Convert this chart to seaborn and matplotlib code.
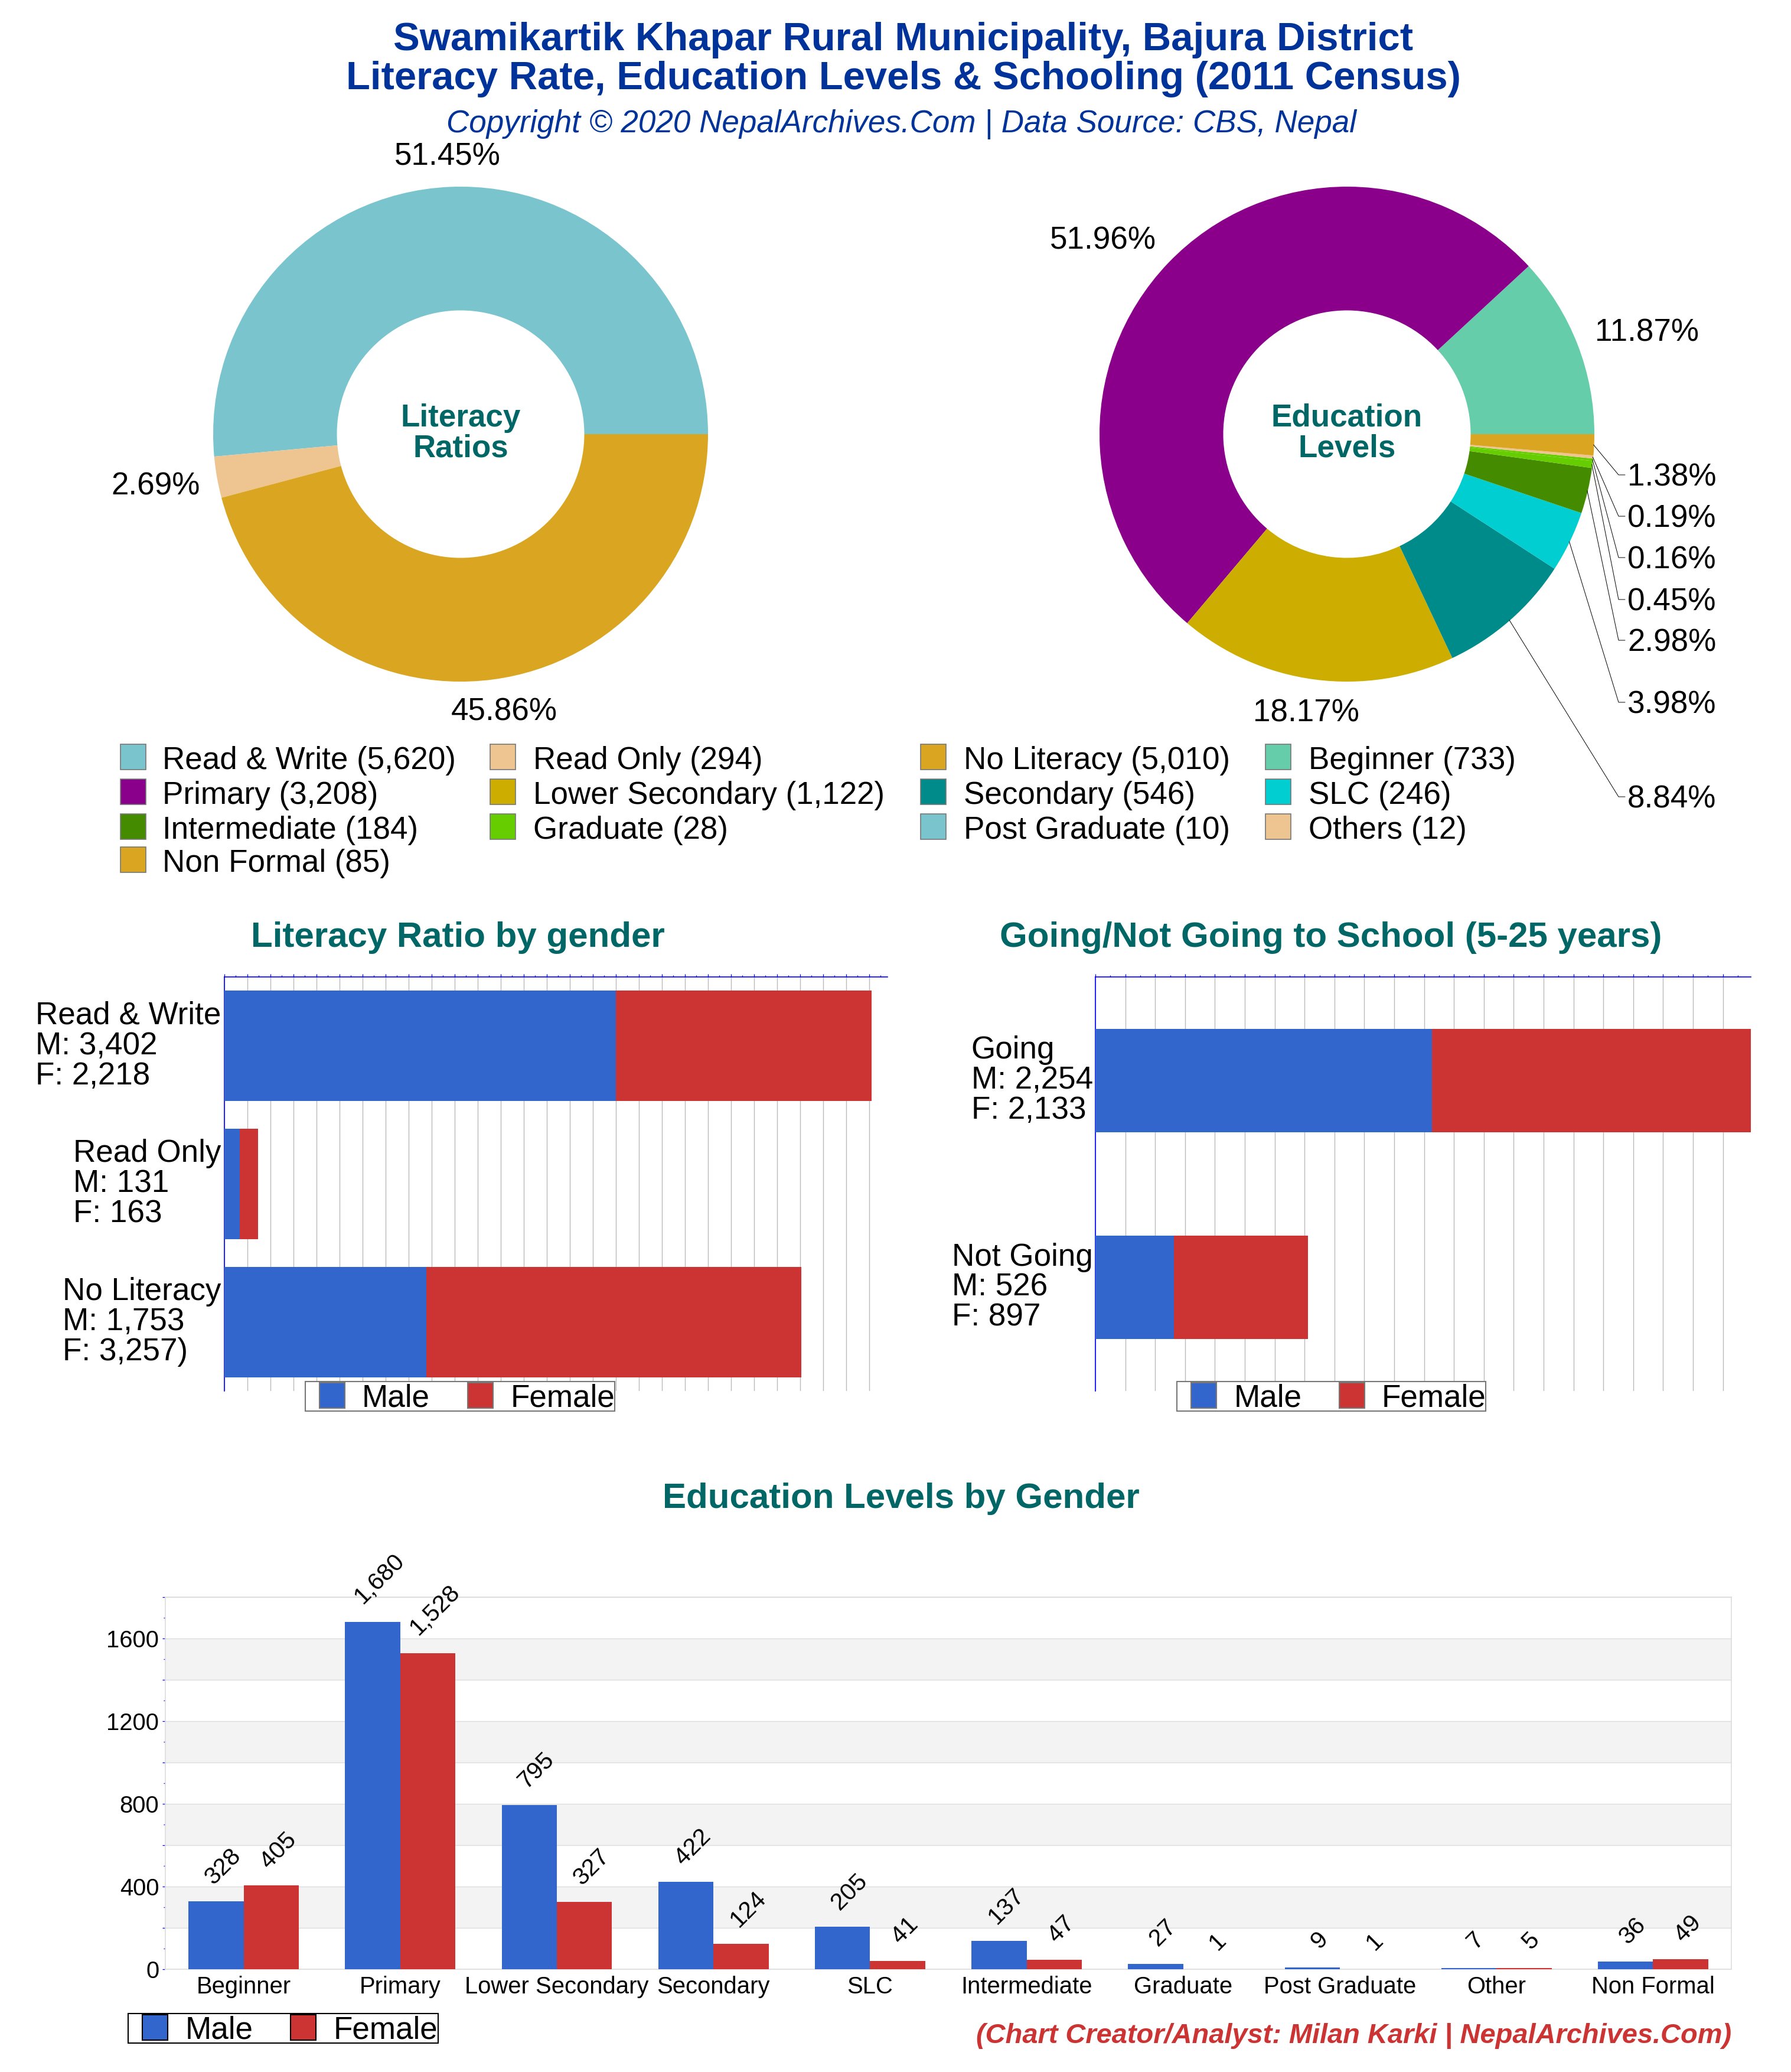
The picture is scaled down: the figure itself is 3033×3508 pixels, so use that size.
import numpy as np
import pandas as pd
import matplotlib
matplotlib.use("Agg")
import matplotlib.pyplot as plt
from matplotlib.patches import Rectangle
from matplotlib.lines import Line2D
from matplotlib.ticker import MultipleLocator
import seaborn as sns

# ---------- data ----------
literacy_labels = ["Read & Write", "Read Only", "No Literacy"]
literacy_male = [3402, 131, 1753]
literacy_female = [2218, 163, 3257]
literacy_ticks = ["Read & Write\nM: 3,402\nF: 2,218", "Read Only\nM: 131\nF: 163", "No Literacy\nM: 1,753\nF: 3,257)"]
literacy_colors = ["#7AC5CD", "#EEC591", "#DAA520"]

edu_pie_labels = ["Beginner", "Primary", "Lower Secondary", "Secondary", "SLC", "Intermediate",
                  "Graduate", "Post Graduate", "Others", "Non Formal"]
edu_pie_values = [733, 3208, 1122, 546, 246, 184, 28, 10, 12, 85]
edu_colors = ["#66CDAA", "#8B008B", "#CDAD00", "#008B8B", "#00CED1", "#458B00",
              "#66CD00", "#66CD00", "#EEC591", "#DAA520"]

school_ticks = ["Going\nM: 2,254\nF: 2,133", "Not Going\nM: 526\nF: 897"]
school_male = [2254, 526]
school_female = [2133, 897]

edu_bar_labels = ["Beginner", "Primary", "Lower Secondary", "Secondary", "SLC", "Intermediate",
                  "Graduate", "Post Graduate", "Other", "Non Formal"]
edu_male = [328, 1680, 795, 422, 205, 137, 27, 9, 7, 36]
edu_female = [405, 1528, 327, 124, 41, 47, 1, 1, 5, 49]

BLUE, RED = "#3366CC", "#CC3333"
TITLE, TEAL = "#003399", "#006666"
W, H, DPI = 3033, 3508, 100

sns.set_theme(style="white")
plt.rcParams["font.family"] = ["Liberation Sans", "DejaVu Sans"]
plt.rcParams["text.color"] = "black"
fig = plt.figure(figsize=(W / DPI, H / DPI), dpi=DPI, facecolor="white")


def pt(px):
    return px * 72 / DPI


def axes_px(l, t, r, b):
    return fig.add_axes([l / W, 1 - b / H, (r - l) / W, (b - t) / H])


def T(x, y, s, px, **kw):
    kw.setdefault("va", "baseline")
    kw.setdefault("color", "black")
    return fig.text(x / W, 1 - y / H, s, fontsize=pt(px), **kw)


def box(l, t, r, b, face, edge, lw=1.5):
    fig.add_artist(Rectangle((l / W, 1 - b / H), (r - l) / W, (b - t) / H, transform=fig.transFigure,
                             facecolor=face, edgecolor=edge, linewidth=lw))


# ---------- headings ----------
T(1530, 85, "Swamikartik Khapar Rural Municipality, Bajura District", 67, ha="center", weight="bold", color=TITLE)
T(1530, 151, "Literacy Rate, Education Levels & Schooling (2011 Census)", 67, ha="center", weight="bold", color=TITLE)
T(1527, 224, "Copyright © 2020 NepalArchives.Com | Data Source: CBS, Nepal", 53, ha="center", style="italic", color=TITLE)

CY, R = 735, 419
CX1, CX2 = 780, 2281


# ---------- donuts ----------
def donut(cx, cy, values, colors):
    ax = axes_px(cx - R, cy - R, cx + R, cy + R)
    ax.pie(values, colors=colors, startangle=0, radius=1, wedgeprops=dict(width=0.5, linewidth=0))
    ax.set_xlim(-1, 1)
    ax.set_ylim(-1, 1)
    return ax


literacy_total = [m + f for m, f in zip(literacy_male, literacy_female)]
donut(CX1, CY, literacy_total, literacy_colors)
donut(CX2, CY, edu_pie_values, edu_colors)

for x, line1, line2 in [(CX1, "Literacy", "Ratios"), (CX2, "Education", "Levels")]:
    T(x, 722, line1, 53, ha="center", weight="bold", color=TEAL)
    T(x, 774, line2, 53, ha="center", weight="bold", color=TEAL)


def pct(v, vals):
    return f"{v / sum(vals) * 100:.2f}%"


for v, (x, y) in zip(literacy_total, [(668, 279), (188, 837), (764, 1220)]):
    T(x, y, pct(v, literacy_total), 53)
for v, (x, y) in zip(edu_pie_values[:3], [(2701, 578), (1778, 421), (2122, 1222)]):
    T(x, y, pct(v, edu_pie_values), 53)

# leader-line labels for the small slices
cum = np.cumsum(edu_pie_values)
mids = (cum - np.array(edu_pie_values) / 2) / cum[-1] * 2 * np.pi
elbows = {9: 804, 8: 874, 7: 944, 6: 1015, 5: 1084, 4: 1189, 3: 1349}
for i, ey in elbows.items():
    sx = CX2 + (R - 1) * np.cos(mids[i])
    sy = CY - (R - 1) * np.sin(mids[i])
    fig.add_artist(Line2D(np.array([sx, 2741, 2752]) / W, 1 - np.array([sy, ey, ey]) / H,
                          transform=fig.transFigure, color="black", linewidth=0.7, zorder=2))
    T(2756, ey + 18.5, pct(edu_pie_values[i], edu_pie_values), 53)

# ---------- donut legend ----------
legend_rows = [
    [("Read & Write (5,620)", "#7AC5CD"), ("Read Only (294)", "#EEC591"), ("No Literacy (5,010)", "#DAA520"), ("Beginner (733)", "#66CDAA")],
    [("Primary (3,208)", "#8B008B"), ("Lower Secondary (1,122)", "#CDAD00"), ("Secondary (546)", "#008B8B"), ("SLC (246)", "#00CED1")],
    [("Intermediate (184)", "#458B00"), ("Graduate (28)", "#66CD00"), ("Post Graduate (10)", "#7AC5CD"), ("Others (12)", "#EEC591")],
    [("Non Formal (85)", "#DAA520")],
]
row_tops = [1260, 1319, 1378, 1434]
col_swatch = [204, 830, 1559, 2143]
col_text = [275, 903, 1632, 2216]
for row, top in zip(legend_rows, row_tops):
    for (label, c), sx, tx in zip(row, col_swatch, col_text):
        box(sx, top, sx + 43, top + 43, c, "#777777", 1.2)
        T(tx, top + 42, label, 53)


# ---------- stacked horizontal bars ----------
def stacked(l, t, r, b, ticks, male, female, xmax, width, pad):
    ax = axes_px(l, t, r, b)
    total = [m + f for m, f in zip(male, female)]
    sns.barplot(x=total, y=ticks, color=RED, saturation=1, width=width, ax=ax, orient="h", zorder=3, linewidth=0)
    sns.barplot(x=male, y=ticks, color=BLUE, saturation=1, width=width, ax=ax, orient="h", zorder=4, linewidth=0)
    ax.set_xlim(0, xmax)
    ax.set_ylim(len(ticks) - 0.5, -0.5)
    ax.xaxis.tick_top()
    ax.xaxis.set_major_locator(MultipleLocator(200))
    ax.xaxis.set_minor_locator(MultipleLocator(100))
    ax.grid(True, axis="x", which="major", color="#BBBBBB", linewidth=1.0)
    ax.grid(False, axis="y")
    ax.set_axisbelow(True)
    ax.tick_params(axis="x", which="major", length=3.6, width=0.9, color="#0000FF", top=True, bottom=False,
                   labeltop=False, labelbottom=False)
    ax.tick_params(axis="x", which="minor", length=2.2, width=0.9, color="#0000FF", top=True, bottom=False)
    ax.tick_params(axis="y", length=0, pad=pad, labelsize=pt(53), labelcolor="black")
    for lab in ax.get_yticklabels():
        lab.set_ha("right")
        lab.set_va("center")
        lab.set_multialignment("left")
        lab.set_linespacing(1.03)
    for s in ["right", "bottom"]:
        ax.spines[s].set_visible(False)
    for s in ["top", "left"]:
        ax.spines[s].set_color("#0000FF")
        ax.spines[s].set_linewidth(1.2)
    ax.set_xlabel("")
    ax.set_ylabel("")
    return ax


stacked(380, 1654, 1503, 2355, literacy_ticks, literacy_male, literacy_female, 5760, 0.8, 4)
stacked(1855, 1654, 2965, 2355, school_ticks, school_male, school_female, 4387, 0.5, 3)

T(775, 1603, "Literacy Ratio by gender", 60, ha="center", weight="bold", color=TEAL)
T(2254, 1603, "Going/Not Going to School (5-25 years)", 60, ha="center", weight="bold", color=TEAL)


def mf_legend(l, r, top, swatch1, text1, swatch2, text2, edge):
    box(l, top, r, top + 50, "white", edge)
    box(swatch1, top + 2, swatch1 + 43, top + 45, BLUE, edge)
    box(swatch2, top + 2, swatch2 + 43, top + 45, RED, edge)
    T(text1, top + 43, "Male", 53)
    T(text2, top + 43, "Female", 53)


mf_legend(517, 1041, 2339, 541, 613, 792, 865, "#777777")
mf_legend(1993, 2516, 2339, 2017, 2090, 2268, 2340, "#777777")

# ---------- grouped bars ----------
T(1526, 2553, "Education Levels by Gender", 60, ha="center", weight="bold", color=TEAL)
ax = axes_px(280, 2704, 2932, 3334)
df = pd.DataFrame({
    "level": edu_bar_labels * 2,
    "value": edu_male + edu_female,
    "sex": ["Male"] * len(edu_male) + ["Female"] * len(edu_female),
})
sns.barplot(data=df, x="level", y="value", hue="sex", palette={"Male": BLUE, "Female": RED},
            saturation=1, width=0.705, gap=0, dodge=True, legend=False, ax=ax, zorder=3, linewidth=0)
ax.set_xlim(-0.5, len(edu_bar_labels) - 0.5)
ax.set_ylim(0, 1800)
for lo in range(200, 1800, 400):
    ax.axhspan(lo, lo + 200, color="#F3F3F3", zorder=0, linewidth=0)
ax.set_yticks(range(0, 1801, 200))
ax.set_yticklabels([str(v) if v % 400 == 0 and v < 1800 else "" for v in range(0, 1801, 200)])
ax.yaxis.set_minor_locator(MultipleLocator(100))
ax.grid(True, axis="y", which="major", color="#DDDDDD", linewidth=1.0)
ax.grid(False, axis="x")
ax.set_axisbelow(True)
ax.tick_params(axis="y", which="major", length=3.6, width=0.9, color="#0000FF", left=True, labelsize=pt(40),
               pad=4, labelcolor="black")
ax.tick_params(axis="y", which="minor", length=2.2, width=0.9, color="#0000FF", left=True)
ax.tick_params(axis="x", length=0, labelsize=pt(40), pad=8, labelcolor="black")
for s in ax.spines.values():
    s.set_color("#DDDDDD")
    s.set_linewidth(1.2)
ax.set_xlabel("")
ax.set_ylabel("")

lift = {1: 46, 2: 52, 3: 59, 5: 74}
for i, (m, f) in enumerate(zip(edu_male, edu_female)):
    for off, v in ((-0.176, m), (0.176, f)):
        s = f"{v:,}"
        ax.annotate(s, xy=(i + off, v), xytext=(12, lift[len(s)]), textcoords="offset pixels",
                    fontsize=pt(41), rotation=45, ha="center", va="center", rotation_mode="anchor",
                    color="black", annotation_clip=False, zorder=5)

mf_legend(217, 742, 3409, 241, 314, 492, 565, "#000000")
T(2932, 3459, "(Chart Creator/Analyst: Milan Karki | NepalArchives.Com)", 47, ha="right", weight="bold",
  style="italic", color=RED)

fig.savefig("out.png", dpi=DPI, facecolor="white")
